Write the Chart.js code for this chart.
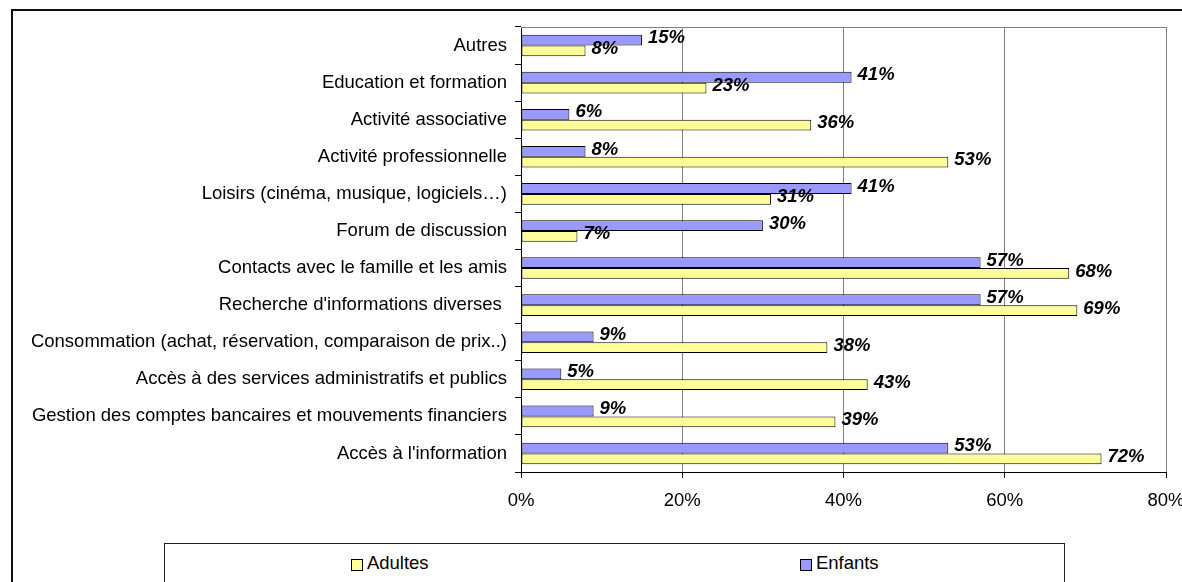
<!DOCTYPE html>
<html lang="fr">
<head>
<meta charset="utf-8">
<title>Usages d'Internet</title>
<script src="https://cdn.jsdelivr.net/npm/chart.js@4.4.1/dist/chart.umd.min.js"></script>
<style>
  html, body { margin: 0; padding: 0; background: #fff; overflow: hidden; }
  #cadre {
    position: absolute; left: 11px; top: 9px; width: 1300px; height: 700px;
    border-top: 2px solid #111; border-left: 2px solid #111;
  }
  #graphique { position: absolute; left: 0; top: 0; }
  #legende {
    position: absolute; left: 164px; top: 543px; width: 899px; height: 60px;
    border: 1px solid #222; display: flex; background: #fff;
    font: 18.5px 'Liberation Sans', Arial, sans-serif; color: #000;
  }
  #legende .item {
    flex: 1; display: flex; justify-content: center; align-items: center;
    height: 22px; margin-top: 8px;
  }
  #legende .carre {
    width: 10px; height: 10px; border: 1px solid #000; margin-right: 4px; margin-top: 3px;
  }
</style>
</head>
<body>
<div id="cadre"></div>
<canvas id="graphique" width="1200" height="540"></canvas>
<div id="legende">
  <div class="item"><span class="carre" style="background:#FFFF99"></span>Adultes</div>
  <div class="item"><span class="carre" style="background:#9999FF"></span>Enfants</div>
</div>

<script>
// Catégories d'usage (de haut en bas)
const categories = [
  'Autres',
  'Education et formation',
  'Activité associative',
  'Activité professionnelle',
  'Loisirs (cinéma, musique, logiciels…)',
  'Forum de discussion',
  'Contacts avec le famille et les amis',
  "Recherche d'informations diverses ",
  'Consommation (achat, réservation, comparaison de prix..)',
  'Accès à des services administratifs et publics',
  'Gestion des comptes bancaires et mouvements financiers',
  "Accès à l'information"
];

// Pourcentages par public
const enfants = [15, 41, 6, 8, 41, 30, 57, 57, 9, 5, 9, 53];
const adultes = [8, 23, 36, 53, 31, 7, 68, 69, 38, 43, 39, 72];

// Graduations de l'axe horizontal
const xTicks = [0, 20, 40, 60, 80];

const POLICE = "'Liberation Sans', Arial, sans-serif";
Chart.defaults.font.family = POLICE;
Chart.defaults.font.size = 18.5;
Chart.defaults.color = '#000';

// Etiquettes de valeur en bout de barre
const etiquettes = {
  id: 'etiquettes',
  afterDatasetsDraw(chart) {
    const ctx = chart.ctx;
    ctx.save();
    ctx.font = 'italic bold 18.5px ' + POLICE;
    ctx.fillStyle = '#000';
    ctx.textAlign = 'left';
    ctx.textBaseline = 'middle';
    chart.data.datasets.forEach((ds, i) => {
      chart.getDatasetMeta(i).data.forEach((bar, j) => {
        ctx.fillText(ds.data[j] + '%', bar.x + 6, bar.y - 2);
      });
    });
    ctx.restore();
  }
};

// Bord supérieur gris de la zone de tracé
const bordHaut = {
  id: 'bordHaut',
  beforeDatasetsDraw(chart) {
    const { ctx, chartArea } = chart;
    ctx.save();
    ctx.strokeStyle = '#808080';
    ctx.lineWidth = 1;
    ctx.beginPath();
    ctx.moveTo(chartArea.left, Math.round(chartArea.top) + 0.5);
    ctx.lineTo(chartArea.right, Math.round(chartArea.top) + 0.5);
    ctx.stroke();
    ctx.restore();
  }
};

new Chart(document.getElementById('graphique'), {
  type: 'bar',
  data: {
    labels: categories,
    datasets: [
      {
        label: 'Enfants',
        data: enfants,
        backgroundColor: '#9999FF',
        borderColor: '#000',
        borderWidth: 1,
        borderSkipped: false
      },
      {
        label: 'Adultes',
        data: adultes,
        backgroundColor: '#FFFF99',
        borderColor: '#000',
        borderWidth: 1,
        borderSkipped: false
      }
    ]
  },
  options: {
    indexAxis: 'y',
    responsive: false,
    animation: false,
    barPercentage: 1,
    categoryPercentage: 0.58,
    layout: { padding: { top: 27, right: 34, bottom: 0, left: 0 } },
    plugins: {
      legend: { display: false },
      tooltip: { enabled: false }
    },
    scales: {
      x: {
        min: 0,
        max: 80,
        afterBuildTicks: s => { s.ticks = xTicks.map(v => ({ value: v })); },
        afterFit: s => { s.height = 68; },
        ticks: { callback: v => v + '%', padding: 12 },
        grid: {
          color: c => (c.tick && c.tick.value === 0 ? 'rgba(0,0,0,0)' : '#808080'),
          tickColor: '#000',
          tickLength: 6
        },
        border: { color: '#000', width: 1 }
      },
      y: {
        afterFit: s => { s.width = 521; },
        ticks: { padding: 8, autoSkip: false },
        grid: {
          offset: true,
          drawOnChartArea: false,
          color: '#000',
          tickLength: 6
        },
        border: { color: '#000', width: 1 }
      }
    }
  },
  plugins: [etiquettes, bordHaut]
});
</script>
</body>
</html>
